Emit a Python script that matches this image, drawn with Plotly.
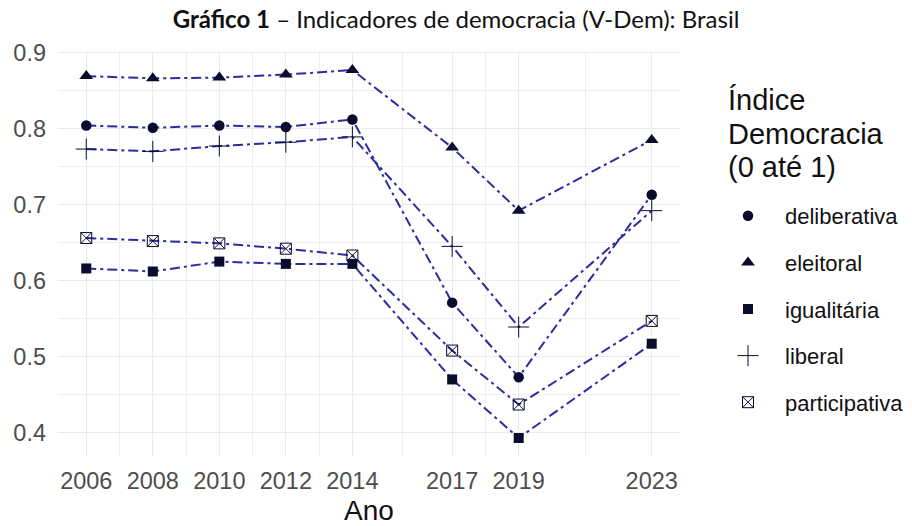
import plotly.graph_objects as go

# ---- data ----
anos = [2006, 2008, 2010, 2012, 2014, 2017, 2019, 2023]
ano_labels = ["2006", "2008", "2010", "2012", "2014", "2017", "2019", "2023"]
deliberativa = [0.804, 0.801, 0.804, 0.802, 0.812, 0.571, 0.473, 0.713]
eleitoral = [0.869, 0.866, 0.867, 0.871, 0.877, 0.775, 0.692, 0.785]
igualitaria = [0.616, 0.612, 0.625, 0.622, 0.622, 0.470, 0.393, 0.517]
liberal = [0.773, 0.770, 0.777, 0.782, 0.789, 0.645, 0.539, 0.692]
participativa = [0.656, 0.652, 0.649, 0.642, 0.633, 0.508, 0.437, 0.547]
y_ticks = [0.4, 0.5, 0.6, 0.7, 0.8, 0.9]
y_labels = ["0.4", "0.5", "0.6", "0.7", "0.8", "0.9"]
series_names = ["deliberativa", "eleitoral", "igualitária", "liberal", "participativa"]
legend_title_lines = ["Índice", "Democracia", "(0 até 1)"]

series = [deliberativa, eleitoral, igualitaria, liberal, participativa]
symbols = ["circle", "triangle-up", "square", "cross-thin-open", "square-x-open"]
sizes = [10.5, 12, 10, 15, 11]

LINE_COLOR = "#2c2ca0"
MARK_COLOR = "#0b0b2e"
DASH = "10px,4px,3px,4px"

W, H = 912, 526

fig = go.Figure()

# lines first
for name, vals in zip(series_names, series):
    fig.add_trace(go.Scatter(
        x=anos, y=vals, mode="lines", showlegend=False,
        line=dict(color=LINE_COLOR, width=2, dash=DASH),
        hoverinfo="skip",
    ))

# markers on top (these carry the legend)
for i, (name, vals) in enumerate(zip(series_names, series)):
    open_sym = symbols[i].endswith("open")
    fig.add_trace(go.Scatter(
        x=anos, y=vals, mode="markers", name=name,
        legendgroup=name,
        marker=dict(symbol=symbols[i], size=sizes[i], color=MARK_COLOR,
                    line=dict(color=MARK_COLOR, width=1 if open_sym else 0)),
    ))

minor_x = [(a + b) / 2 for a, b in zip(anos[:-1], anos[1:])]
minor_y = [(a + b) / 2 for a, b in zip(y_ticks[:-1], y_ticks[1:])]

GRID = "#ebebeb"

PLOT_L, PLOT_R, PLOT_T, PLOT_B = 58, 680, 51, 457
title_centers_px = [100, 133.5, 167]
annotations = []
for line, ypx in zip(legend_title_lines, title_centers_px):
    annotations.append(dict(
        text=line, showarrow=False,
        xref="paper", yref="paper",
        x=(726 - PLOT_L) / (PLOT_R - PLOT_L), xanchor="left",
        y=(PLOT_B - ypx) / (PLOT_B - PLOT_T), yanchor="middle",
        font=dict(size=29, color="#111111", family="Liberation Sans, Arial, sans-serif"),
    ))

fig.update_layout(
    width=W, height=H,
    paper_bgcolor="white", plot_bgcolor="white",
    margin=dict(l=PLOT_L, r=W - PLOT_R, t=PLOT_T, b=H - PLOT_B),
    title=dict(
        text="<b>Gráfico 1</b> – Indicadores de democracia (V-Dem): Brasil",
        x=0.5, xanchor="center", xref="container",
        y=1 - 11 / H, yanchor="top", yref="container",
        font=dict(family="Lato", size=24, color="#111111"),
        automargin=False,
    ),
    font=dict(family="Liberation Sans, Arial, sans-serif"),
    annotations=annotations,
    xaxis=dict(
        range=[2005.15, 2023.85],
        tickmode="array", tickvals=anos, ticktext=ano_labels,
        tickfont=dict(size=23.5, color="#4d4d4d"),
        showgrid=True, gridcolor=GRID, gridwidth=1.1,
        minor=dict(tickmode="array", tickvals=minor_x, showgrid=True,
                   gridcolor="#eeeeee", gridwidth=0.6),
        zeroline=False, showline=False, ticks="",
        ticklabelstandoff=7, automargin=False,
        title=dict(text="Ano", font=dict(size=28, color="#111111"), standoff=8),
    ),
    yaxis=dict(
        range=[0.368, 0.902],
        tickmode="array", tickvals=y_ticks, ticktext=y_labels,
        tickfont=dict(size=23.5, color="#4d4d4d"),
        showgrid=True, gridcolor=GRID, gridwidth=1.1,
        minor=dict(tickmode="array", tickvals=minor_y, showgrid=True,
                   gridcolor="#eeeeee", gridwidth=0.6),
        zeroline=False, showline=False, ticks="",
        ticklabelstandoff=11, automargin=False,
    ),
    legend=dict(
        font=dict(size=22, color="#111111"),
        xref="container", yref="container",
        x=711 / W, xanchor="left",
        y=1 - 195 / H, yanchor="top",
        traceorder="grouped", tracegroupgap=15,
        itemwidth=64, maxheight=600,
        bgcolor="rgba(0,0,0,0)",
    ),
)

fig.write_html("out.html", config={"displayModeBar": False},
               post_script="document.body.style.margin='0px';")
